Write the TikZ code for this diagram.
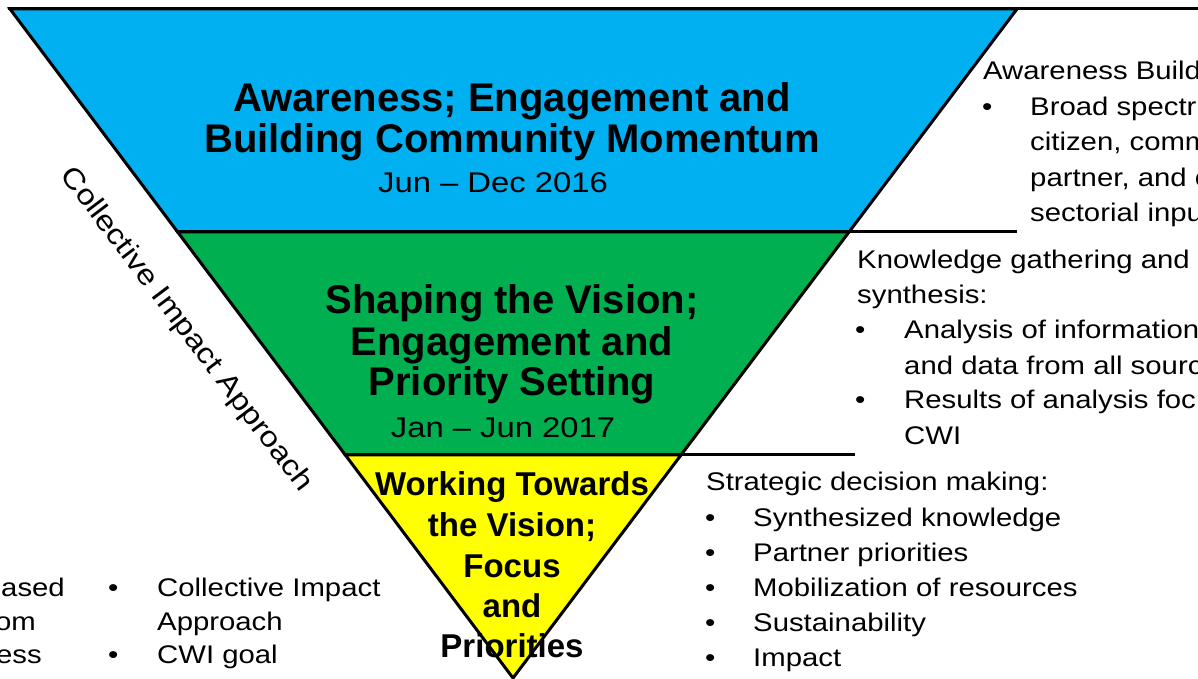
\documentclass[tikz,border=0pt]{standalone}
\usepackage{fontspec}
\setmainfont{Liberation Sans}
\newfontfamily\widefont[FakeStretch=1.15]{Liberation Sans}
\usetikzlibrary{calc}
\definecolor{tierblue}{RGB}{0,176,240}
\definecolor{tiergreen}{RGB}{0,176,80}
\definecolor{tieryellow}{RGB}{255,255,0}
\begin{document}
\begin{tikzpicture}[x=1pt,y=-1pt,
  tier/.style={draw=black,line width=3pt,line join=miter},
  rule/.style={draw=black,line width=3pt},
  head/.style={anchor=base,inner sep=0pt,font=\fontsize{40}{42}\selectfont\bfseries},
  headsmall/.style={anchor=base,inner sep=0pt,font=\fontsize{33}{40}\selectfont\bfseries},
  date/.style={anchor=base,inner sep=0pt,font=\fontsize{28.5}{34}\selectfont\widefont},
  note/.style={anchor=base west,inner sep=0pt,font=\fontsize{25.5}{35}\selectfont\widefont},
  noteend/.style={anchor=base east,inner sep=0pt,font=\fontsize{25.5}{35}\selectfont\widefont},
  side/.style={inner sep=0pt,font=\fontsize{28.5}{34}\selectfont\widefont}]
\useasboundingbox (0,0) rectangle (1198,679);
\clip (0,0) rectangle (1198,679);

% corners of the inverted triangle
\coordinate (A) at (10,9);
\coordinate (B) at (1017,9);
\coordinate (C) at (513,678);
\coordinate (L1) at ($(A)!1/3!(C)$);
\coordinate (R1) at ($(B)!1/3!(C)$);
\coordinate (L2) at ($(A)!2/3!(C)$);
\coordinate (R2) at ($(B)!2/3!(C)$);

% the three tiers
\path[tier,fill=tierblue] (A) -- (B) -- (R1) -- (L1) -- cycle;
\path[tier,fill=tiergreen] (L1) -- (R1) -- (R2) -- (L2) -- cycle;
\path[tier,fill=tieryellow] (L2) -- (R2) -- (C) -- cycle;

% horizontal rules running out to the right
\coordinate (E0) at (1198,9);
\coordinate (E1) at (B |- L1);
\coordinate (E2) at (855,0 |- L2);
\draw[rule] (8,9) -- (E0);
\draw[rule] (L1) -- (E1);
\draw[rule] (L2) -- (E2);

% tier titles
\node[head] (t1a) at (512,112) {Awareness; Engagement and};
\node[head] (t1b) at (512,153) {Building Community Momentum};
\node[date] (d1) at (493,193) {Jun – Dec 2016};

\node[head] (t2a) at (512,313) {Shaping the Vision;};
\node[head] (t2b) at (512,355) {Engagement and};
\node[head] (t2c) at (512,395) {Priority Setting};
\node[date] (d2) at (503,437) {Jan – Jun 2017};

\node[headsmall] (t3a) at (512,495) {Working Towards};
\node[headsmall] (t3b) at (512,536) {the Vision;};
\node[headsmall] (t3c) at (512,577) {Focus};
\node[headsmall] (t3d) at (512,617) {and};
\node[headsmall] (t3e) at (512,657) {Priorities};

% label along the left side
\node[side,rotate=-52.9] (ci) at (186,330) {Collective Impact Approach};

% notes beside the top tier
\node[note] (n1h) at (983,80) {Awareness Build};
\node[note] (n1b) at (982,115.5) {•};
\node[note] (n1a) at (1030,115.5) {Broad spectr};
\node[note] (n1c) at (1030,151) {citizen, comm};
\node[note] (n1d) at (1030,186) {partner, and c};
\node[note] (n1e) at (1030,221.5) {sectorial inpu};

% notes beside the middle tier
\node[note] (n2h) at (857,268) {Knowledge gathering and};
\node[note] (n2i) at (857,303) {synthesis:};
\node[note] (n2b1) at (855,338) {•};
\node[note] (n2a) at (904,338) {Analysis of information};
\node[note] (n2c) at (904,374) {and data from all sourc};
\node[note] (n2b2) at (855,408) {•};
\node[note] (n2d) at (904,408) {Results of analysis foc};
\node[note] (n2e) at (904,444) {CWI};

% notes beside the bottom tier
\node[note] (n3h) at (706,490) {Strategic decision making:};
\node[note] (n3b1) at (705,526) {•};
\node[note] (n3a) at (753,526) {Synthesized knowledge};
\node[note] (n3b2) at (705,561) {•};
\node[note] (n3c) at (753,561) {Partner priorities};
\node[note] (n3b3) at (705,596) {•};
\node[note] (n3d) at (753,596) {Mobilization of resources};
\node[note] (n3b4) at (705,631) {•};
\node[note] (n3e) at (753,631) {Sustainability};
\node[note] (n3b5) at (705,666) {•};
\node[note] (n3f) at (753,666) {Impact};

% notes at the lower left
\node[noteend] (m1) at (65,596) {based};
\node[noteend] (m2) at (36,630) {om};
\node[noteend] (m3) at (42,663) {ess};
\node[note] (m4b1) at (108,596) {•};
\node[note] (m4a) at (157,596) {Collective Impact};
\node[note] (m4c) at (157,630) {Approach};
\node[note] (m4b2) at (108,663) {•};
\node[note] (m4d) at (157,663) {CWI goal};
\end{tikzpicture}
\end{document}
